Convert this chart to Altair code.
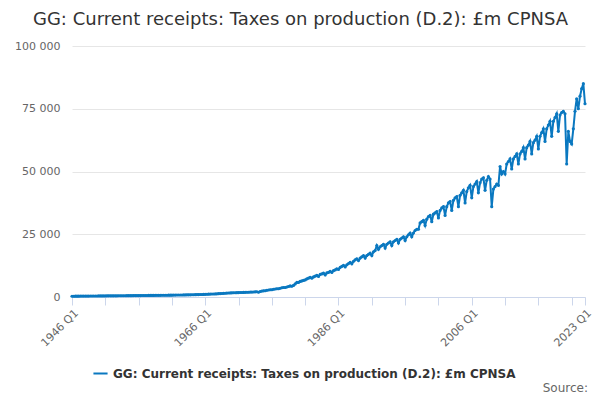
import altair as alt
import pandas as pd

series_name = "GG: Current receipts: Taxes on production (D.2): £m CPNSA"
start_year = 1946
values = [
    300,310,320,330, 340,350,350,360, 370,380,380,390, 400,400,410,410,
    420,420,430,430, 440,450,450,460, 460,470,470,480, 490,490,500,500,
    510,520,520,530, 540,550,560,560, 570,580,590,590, 600,610,620,620,
    630,640,650,650, 660,670,680,690, 700,710,720,730, 740,760,770,780,
    790,800,810,820, 830,850,860,870, 890,910,930,950, 970,990,1010,1030,
    1060,1090,1120,1150, 1180,1210,1240,1270, 1320,1370,1410,1450,
    1500,1550,1590,1620, 1650,1680,1710,1740, 1760,1790,1810,1840,
    1850,1880,1900,1950, 1950,2000,2050,2100, 1900,2200,2350,2450,
    2500,2700,2800,2900, 2900,3100,3200,3300, 3300,3500,3700,3800,
    3800,4000,4200,4400, 4300,4600,5200,5800, 5800,6200,6400,6600,
    6800,7200,7500,7800, 7500,8000,8300,8600, 8200,9000,9200,9500,
    8800,9600,9800,10200, 9800,10500,10800,11200, 11000,11800,12200,12600,
    12000,12800,13300,13800, 13200,14200,14800,15200, 14500,15500,16000,16500,
    15500,16500,17000,17500, 16500,18000,18500,20500, 19000,20000,20500,21000,
    19500,21000,21500,22000, 20500,22000,22500,23000, 21500,23000,23500,24000,
    22500,24000,24800,25500, 24000,25500,26500,27000, 27000,29500,30000,30500,
    28500,31000,32000,32500, 30000,33000,33500,34000, 31500,34500,35500,36000,
    32500,36000,37500,38000, 34500,38500,39500,40000, 36000,40500,41500,42500,
    37500,42000,43500,44500, 39500,44000,45000,46000, 41500,45500,47000,47500,
    42500,46500,48000,47000, 36000,43000,44000,45000, 44500,52000,49000,50000,
    49000,53000,54000,55000, 51000,55000,56000,57000, 53000,57000,58000,59500,
    55000,59500,60500,62000, 57000,61500,62500,64000, 59000,64000,65500,67000,
    62000,67000,68500,70000, 64000,70000,71500,73000, 66000,72500,73500,74000,
    73000,53000,66000,62000, 61000,67000,74000,79000, 75000,80000,83000,85000,
    77000,
]
tick_years = [1946,1951,1956,1961,1966,1971,1976,1981,1986,1991,1996,2001,2006,2011,2016,2021,2023]
label_years = [1946,1966,1986,2006,2023]

rows = []
for i, v in enumerate(values):
    y, q = start_year + i // 4, i % 4 + 1
    rows.append({"t": y + (q - 1) / 4, "label": f"{y} Q{q}", "value": v, "series": series_name})
df = pd.DataFrame(rows)

color = "#0a78c0"
font = "DejaVu Sans"

lbl_expr = "indexof([" + ",".join(str(y) for y in label_years) + "], datum.value) >= 0 ? datum.value + ' Q1' : ''"

line = alt.Chart(df).mark_line(point=alt.OverlayMarkDef(size=10, filled=True), strokeWidth=2).encode(
    x=alt.X("t:Q", scale=alt.Scale(domain=[1946, 2023], nice=False, zero=False),
            axis=alt.Axis(title=None, values=tick_years, labelExpr=lbl_expr, labelAngle=-45,
                          labelAlign="right", labelBaseline="top", labelOverlap=False, labelBound=False,
                          grid=False, domainColor="#ccd6eb", tickColor="#ccd6eb", tickSize=8,
                          labelFontSize=11, labelColor="#666", labelFont=font, labelPadding=2)),
    y=alt.Y("value:Q", scale=alt.Scale(domain=[0, 100000]),
            axis=alt.Axis(title=None, values=[0,25000,50000,75000,100000],
                          labelExpr="replace(format(datum.value, ','), ',', ' ')",
                          domain=False, ticks=False, gridColor="#e6e6e6", labelFontSize=11,
                          labelColor="#666", labelFont=font, labelPadding=12)),
    color=alt.Color("series:N", scale=alt.Scale(range=[color]),
                    legend=alt.Legend(title=None, orient="none", legendX=20, legendY=319,
                                      symbolType="stroke", symbolStrokeWidth=2, symbolSize=200,
                                      labelFontSize=12, labelFontWeight="bold", labelColor="#333",
                                      labelFont=font, labelLimit=600)),
)

src = alt.Chart(pd.DataFrame({"a": [0]})).mark_text(align="right", baseline="middle", fontSize=12,
                                                    color="#666", font=font).encode(
    x=alt.value(516), y=alt.value(342), text=alt.value("Source:"))

chart = alt.layer(line, src).properties(
    width=513, height=251,
    title=alt.TitleParams("GG: Current receipts: Taxes on production (D.2): £m CPNSA", fontSize=18,
                          font=font, fontWeight="normal", color="#333", anchor="middle", dx=-28, offset=11),
    autosize=alt.AutoSizeParams(type="none"),
    padding={"left": 64, "top": 38, "right": 7, "bottom": 100},
).configure_view(stroke=None)

chart.save("out.html", embed_options={"renderer": "svg", "actions": False})
